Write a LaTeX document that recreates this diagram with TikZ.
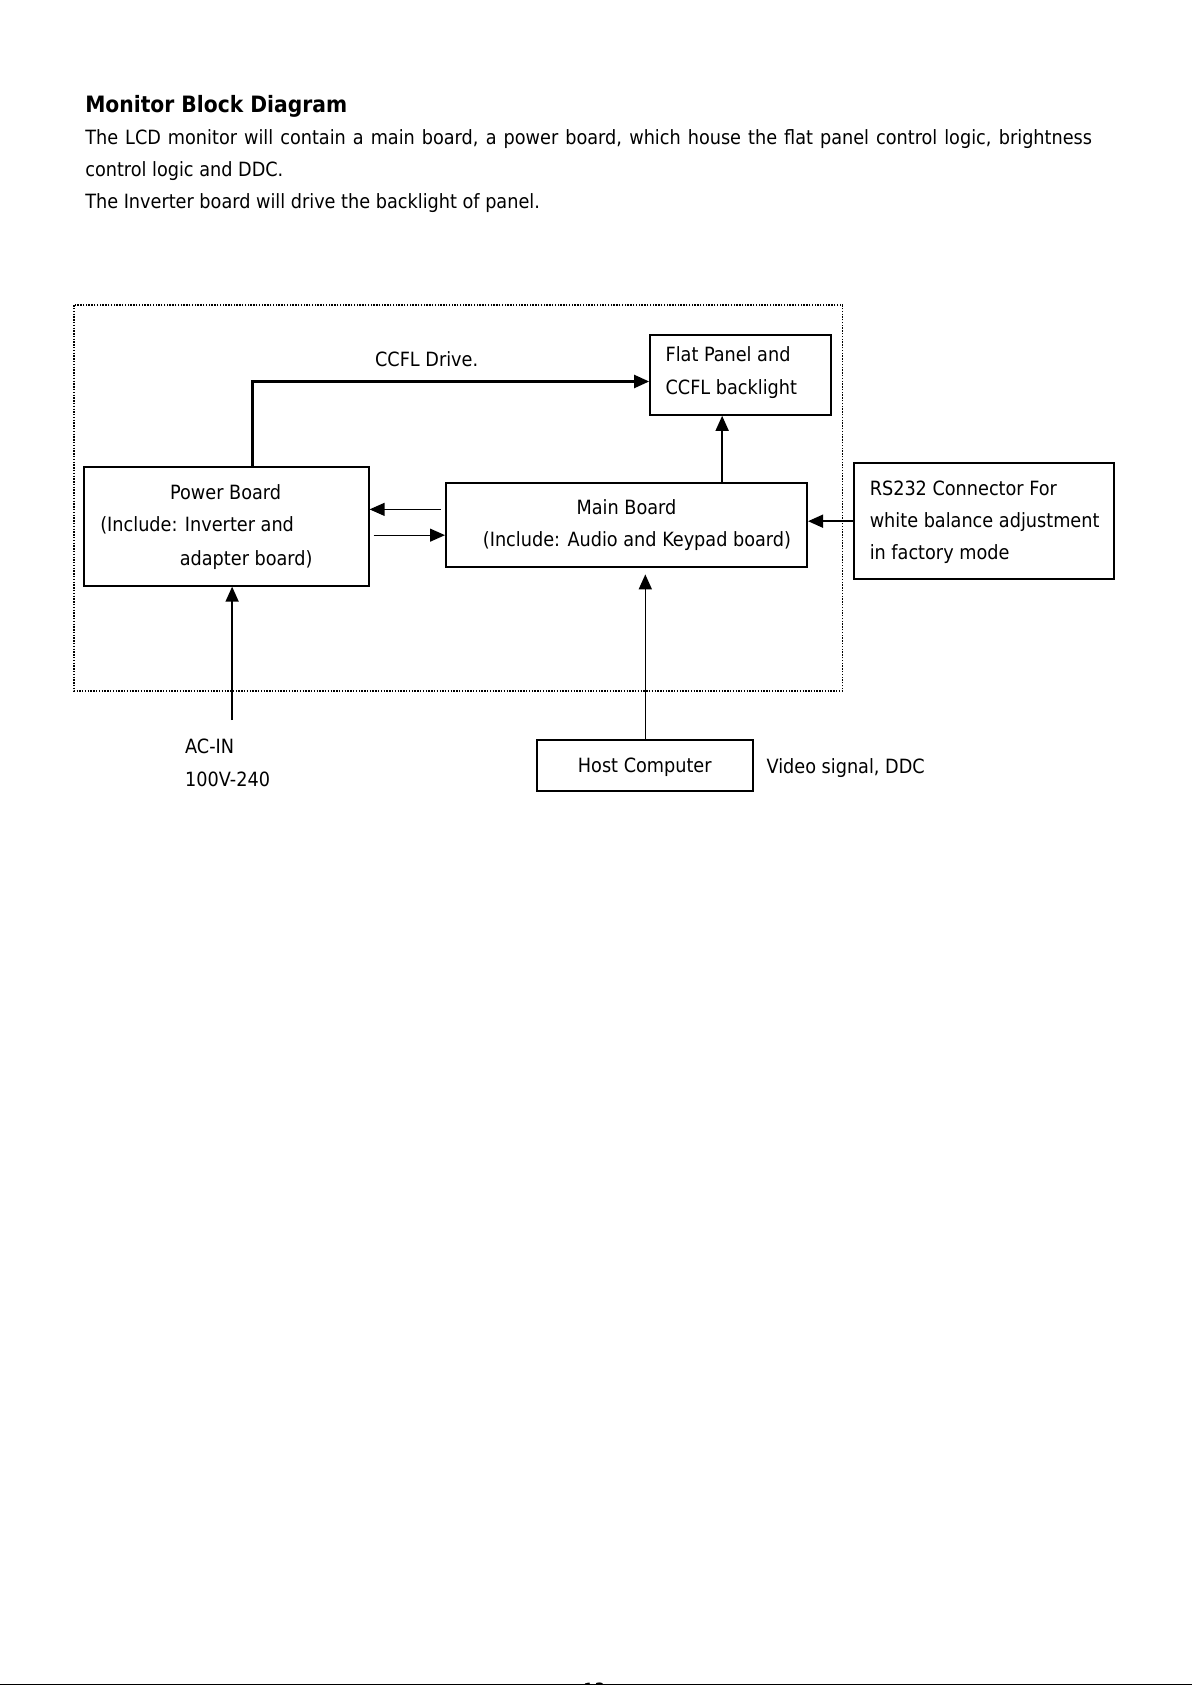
\documentclass[tikz,border=0pt]{standalone}
\usepackage{fontspec}
\setmainfont{DejaVu Sans Condensed}
\usetikzlibrary{arrows.meta,calc}
\newdimen\px \px=0.018936cm
\tikzset{
  box/.style={draw, line width=1pt, inner sep=0pt},
  txt/.style={inner sep=0pt, anchor=base west, font=\fontsize{9.85}{12}\selectfont},
  arr/.style={line width=0.8pt, -{Triangle[length=7.5pt,width=6.5pt]}},
}
\begin{document}
\begin{tikzpicture}[x=0.018936cm, y=-0.018936cm]
  \useasboundingbox (0,0) rectangle (1109,1568);
  % heading and text
  \node[txt, font=\fontsize{11.3}{14}\selectfont\bfseries] (title) at (79,105) {Monitor Block Diagram};
  \node[txt] (par1) at (79,134) {\makebox[937\px][s]{The LCD monitor will contain a main board, a power board, which house the flat panel control logic, brightness}};
  \node[txt] (par2) at (79,164) {control logic and DDC.};
  \node[txt] (par3) at (79,194) {The Inverter board will drive the backlight of panel.};
  % monitor frame
  \draw[line width=0.7pt, dash pattern=on 0.7pt off 0.7pt] (69,284) rectangle (784,643);
  % boxes
  \node[box, minimum width=168\px, minimum height=74\px] (flat) at (689,349) {};
  \node[box, minimum width=265\px, minimum height=110\px] (power) at (210.5,490) {};
  \node[box, minimum width=336\px, minimum height=79\px] (main) at (583,488.5) {};
  \node[box, minimum width=242\px, minimum height=108\px] (rs) at (916,485) {};
  \node[box, minimum width=201\px, minimum height=47\px] (host) at (600.5,712.5) {};
  % box texts
  \node[txt] (flat1) at (619,336) {Flat Panel and};
  \node[txt] (flat2) at (619,367) {CCFL backlight};
  \node[txt, anchor=base] (pow1) at (210,465) {Power Board};
  \node[txt] (pow2) at (93,495) {(Include: Inverter and};
  \node[txt] (pow3) at (167,526) {adapter board)};
  \node[txt, anchor=base] (main1) at (583,479) {Main Board};
  \node[txt] (main2) at (449,509) {(Include: Audio and Keypad board)};
  \node[txt] (rs1) at (809,461) {RS232 Connector For};
  \node[txt] (rs2) at (809,491) {white balance adjustment};
  \node[txt] (rs3) at (809,521) {in factory mode};
  \node[txt, anchor=base] (host1) at (600,719) {Host Computer};
  % labels
  \node[txt, anchor=base] (drive) at (397,341) {CCFL Drive.};
  \node[txt] (ac1) at (172,701) {AC-IN};
  \node[txt] (ac2) at (172,732) {100V-240};
  \node[txt] (video) at (713,720) {Video signal, DDC};
  % connectors
  \coordinate (ccfl) at (235,355);
  \draw[arr, line width=1.1pt] (power.north -| ccfl) -- (ccfl) -- (flat.west |- ccfl);
  \coordinate (up) at (380,474);
  \coordinate (dn) at (380,498);
  \draw[arr, line width=0.6pt, shorten <=2pt] (main.west |- up) -- (power.east |- up);
  \draw[arr, line width=0.6pt, shorten <=2pt] (power.east |- dn) -- (main.west |- dn);
  \coordinate (mf) at (672,420);
  \draw[arr] (main.north -| mf) -- (flat.south -| mf);
  \draw[arr] (rs.west) -- (rs.west -| main.east);
  \coordinate (acin) at (216,670);
  \draw[arr] (acin) -- (power.south -| acin);
  \draw[arr, shorten >=3pt] (host.north) -- (host.north |- main.south);
  % page foot
  \draw[line width=0.6pt] (0,1567.5) -- (1109,1567.5);
  \node[txt, anchor=base] (page) at (553,1580) {13};
\end{tikzpicture}
\end{document}
